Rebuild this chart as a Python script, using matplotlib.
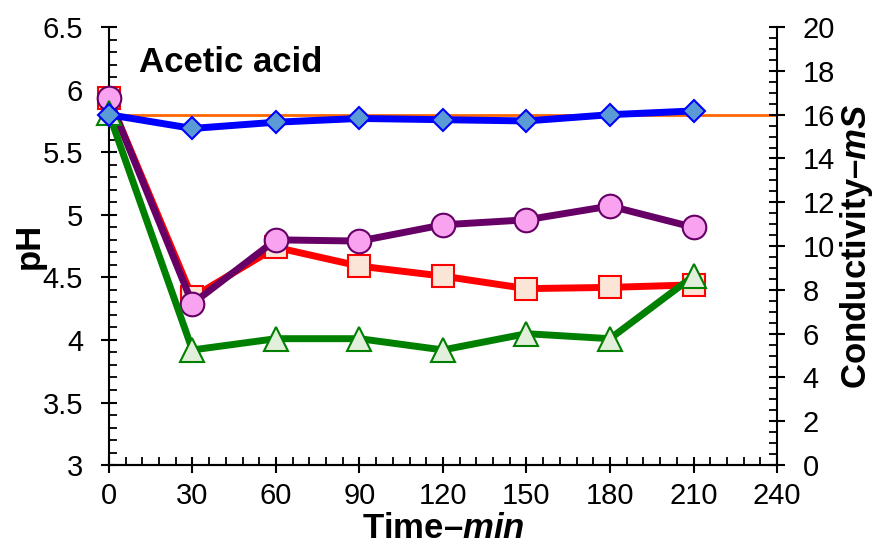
import matplotlib.pyplot as plt
from matplotlib.ticker import MultipleLocator

plt.rcParams['font.family'] = ['Liberation Sans', 'DejaVu Sans']
plt.rcParams['mathtext.fontset'] = 'custom'
plt.rcParams['mathtext.it'] = 'Liberation Sans:bold:italic'
plt.rcParams['mathtext.rm'] = 'Liberation Sans:bold'

time = [0, 30, 60, 90, 120, 150, 180, 210]
ph_blue = [5.80, 5.69, 5.74, 5.77, 5.76, 5.75, 5.80, 5.83]
ph_red = [5.93, 4.34, 4.74, 4.59, 4.51, 4.41, 4.42, 4.44]
ph_purple = [5.93, 4.29, 4.80, 4.79, 4.92, 4.96, 5.07, 4.90]
ph_green = [5.81, 3.92, 4.01, 4.01, 3.92, 4.05, 4.01, 4.51]
cond_time = [0, 240]
cond_ref = [16, 16]
x_ticks = [0, 30, 60, 90, 120, 150, 180, 210, 240]
ph_ticks = [3, 3.5, 4, 4.5, 5, 5.5, 6, 6.5]
ph_ticklabels = ['3', '3.5', '4', '4.5', '5', '5.5', '6', '6.5']
cond_ticks = [0, 2, 4, 6, 8, 10, 12, 14, 16, 18, 20]

fig = plt.figure(figsize=(8.78, 5.53), dpi=100)
ax = fig.add_axes([0.124, 0.159, 0.761, 0.792])
ax2 = ax.twinx()

ax.plot(time, ph_red, color='#ff0000', lw=5, marker='s', ms=16,
        mfc='#fbe5d6', mec='#ff0000', mew=1.5, zorder=3, clip_on=False)
ax.plot(time, ph_purple, color='#660066', lw=5, marker='o', ms=17,
        mfc='#f9a3f0', mec='#660066', mew=1.5, zorder=4, clip_on=False)
ax.plot(time, ph_green, color='#008000', lw=5, marker='^', ms=17,
        mfc='#e2efda', mec='#008000', mew=1.5, zorder=5, clip_on=False)
ax.plot(time, ph_blue, color='#0000ff', lw=5, marker='D', ms=11,
        mfc='#5b9bd5', mec='#0000ff', mew=1.5, zorder=7, clip_on=False)
ax2.plot(cond_time, cond_ref, color='#ff6600', lw=2, zorder=1)

ax.set_xlim(0, 240)
ax.set_ylim(3, 6.5)
ax2.set_ylim(0, 20)
ax.set_xticks(x_ticks)
ax.set_xticklabels([str(t) for t in x_ticks])
ax.xaxis.set_minor_locator(MultipleLocator(6))
ax.set_yticks(ph_ticks)
ax.set_yticklabels(ph_ticklabels)
ax.yaxis.set_minor_locator(MultipleLocator(0.1))
ax2.set_yticks(cond_ticks)
ax2.yaxis.set_minor_locator(MultipleLocator(0.5))

for a in (ax, ax2):
    a.spines['top'].set_visible(False)
    for s in a.spines.values():
        s.set_linewidth(1.5)
    a.tick_params(which='major', direction='inout', length=11, width=1.5,
                  labelsize=21)
    a.tick_params(which='minor', direction='in', length=6, width=1.3)
ax.tick_params(axis='x', which='major', pad=7)
ax.tick_params(axis='y', which='major', pad=13)
ax2.tick_params(axis='y', which='major', pad=13)
ax.spines['right'].set_visible(False)
ax2.spines['left'].set_visible(False)
ax.set_zorder(ax2.get_zorder() + 1)
ax.patch.set_visible(False)

ax.set_xlabel('Time–$min$', fontsize=25, fontweight='bold', labelpad=1)
ax.set_ylabel('pH', fontsize=25, fontweight='bold', labelpad=-2)
ax2.set_ylabel('Conductivity–$mS$', fontsize=25, fontweight='bold', labelpad=2)

ax.text(0.045, 0.92, 'Acetic acid', transform=ax.transAxes, fontsize=25,
        fontweight='bold', ha='left', va='center')

fig.savefig('out.png', dpi=100)
